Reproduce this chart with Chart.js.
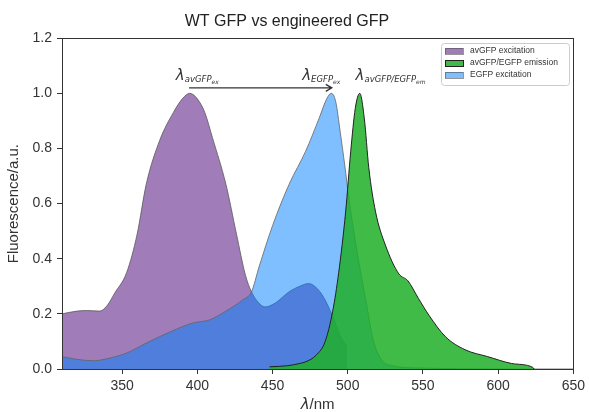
<!DOCTYPE html>
<html>
<head>
<meta charset="utf-8">
<script src="https://cdn.jsdelivr.net/npm/chart.js@4"></script>
<style>
  html, body { margin: 0; padding: 0; background: #fff; }
  canvas { display: block; }
</style>
</head>
<body>
<canvas id="gfpChart" width="589" height="412"></canvas>
<script>
// avGFP excitation (wild type)
const avExWl = [310, 320, 327, 335, 340, 345, 353, 360, 366, 375, 384, 390, 395, 400, 405, 410, 419, 426, 432, 436, 440, 445, 452, 461, 468, 474, 480, 485, 490, 495, 499.5];
const avExVal = [0.20, 0.21, 0.212, 0.21, 0.23, 0.275, 0.35, 0.49, 0.67, 0.83, 0.93, 0.98, 1.0, 0.98, 0.93, 0.84, 0.67, 0.49, 0.34, 0.28, 0.245, 0.225, 0.24, 0.28, 0.30, 0.31, 0.29, 0.25, 0.19, 0.12, 0.08];

// avGFP/EGFP emission
const emWl = [448, 460, 468, 472, 479, 485, 490, 494, 498.6, 502, 505, 508, 511, 514, 518.5, 525, 534, 540, 547, 554, 565, 578, 593, 609, 623, 624];
const emVal = [0.008, 0.012, 0.02, 0.026, 0.05, 0.10, 0.21, 0.35, 0.57, 0.79, 0.945, 1.0, 0.91, 0.73, 0.57, 0.45, 0.345, 0.32, 0.256, 0.195, 0.117, 0.07, 0.045, 0.02, 0.006, 0.0];

// EGFP excitation
const egExWl = [310, 320, 331, 342, 353, 366, 382, 397, 408, 419, 430, 436, 441, 450, 461, 472, 481, 486, 489, 492, 495, 498, 501, 504, 507, 512, 517, 523, 530, 545, 625, 650];
const egExVal = [0.045, 0.035, 0.03, 0.04, 0.058, 0.094, 0.135, 0.167, 0.178, 0.21, 0.25, 0.28, 0.37, 0.52, 0.67, 0.79, 0.91, 0.98, 1.0, 0.97, 0.86, 0.74, 0.61, 0.5, 0.40, 0.25, 0.105, 0.03, 0.012, 0.004, 0.0, 0.0];

const xTicks = [350, 400, 450, 500, 550, 600, 650];
const yTicks = [0, 0.2, 0.4, 0.6, 0.8, 1.0, 1.2];

const seriesNames = ["avGFP excitation", "avGFP/EGFP emission", "EGFP excitation"];

// peak annotations: [main, subscript, sub-subscript, x start, baseline y]
const peakLabels = [
  ["λ", "avGFP", "ex", 385.7, 1.047],
  ["λ", "EGFP", "ex", 469.7, 1.047],
  ["λ", "avGFP/EGFP", "em", 505.2, 1.047],
];
const arrowFrom = [394.5, 1.02];
const arrowTo = [489.4, 1.02];

const toPoints = (xs, ys) => xs.map((x, i) => ({ x: x, y: ys[i] }));

const fills = {
  purple: "rgba(128, 80, 160, 0.75)",
  green: "rgba(30, 175, 40, 0.85)",
  blue: "rgba(0, 128, 255, 0.5)",
};

Chart.defaults.font.family = "'Liberation Sans', Arial, sans-serif";
Chart.defaults.color = "#333";

// draws the lambda labels and the arrow between the two excitation peaks
const annotations = {
  id: "annotations",
  afterDatasetsDraw(chart) {
    const { ctx, scales } = chart;
    const x = scales.x, y = scales.y;
    ctx.save();
    ctx.fillStyle = "#333";
    ctx.textBaseline = "alphabetic";
    ctx.textAlign = "left";
    peakLabels.forEach(([main, sub, subsub, xv, yv]) => {
      let px = x.getPixelForValue(xv);
      const py = y.getPixelForValue(yv);
      ctx.font = "italic 15px 'DejaVu Sans'";
      ctx.fillText(main, px, py);
      px += ctx.measureText(main).width;
      ctx.font = "italic 8.5px 'DejaVu Sans'";
      ctx.fillText(sub, px, py + 2);
      px += ctx.measureText(sub).width;
      ctx.font = "italic 6px 'DejaVu Sans'";
      ctx.fillText(subsub, px, py + 4);
    });

    const x1 = x.getPixelForValue(arrowFrom[0]);
    const x2 = x.getPixelForValue(arrowTo[0]);
    const ya = y.getPixelForValue(arrowFrom[1]);
    ctx.strokeStyle = "#333";
    ctx.lineWidth = 1.3;
    ctx.beginPath();
    ctx.moveTo(x1, ya);
    ctx.lineTo(x2, ya);
    ctx.moveTo(x2 - 6, ya - 3.5);
    ctx.lineTo(x2, ya);
    ctx.lineTo(x2 - 6, ya + 3.5);
    ctx.stroke();
    ctx.restore();
  },
  afterDraw(chart) {
    const { ctx, chartArea: a } = chart;
    ctx.save();
    // frame round the plot
    ctx.strokeStyle = "#333";
    ctx.lineWidth = 1;
    ctx.strokeRect(Math.round(a.left) + 0.5, Math.round(a.top) + 0.5, Math.round(a.right - a.left), Math.round(a.bottom - a.top));

    // axis titles
    ctx.fillStyle = "#333";
    ctx.textBaseline = "middle";
    ctx.textAlign = "left";
    const lam = "λ";
    ctx.font = "15px 'Liberation Sans', Arial";
    const rest = "/nm";
    const restW = ctx.measureText(rest).width;
    ctx.font = "italic 15px 'DejaVu Sans'";
    const lamW = ctx.measureText(lam).width;
    const cx = (a.left + a.right) / 2;
    const sx = cx - (lamW + restW) / 2;
    ctx.fillText(lam, sx, 405);
    ctx.font = "15px 'Liberation Sans', Arial";
    ctx.fillText(rest, sx + lamW, 405);

    ctx.translate(14, (a.top + a.bottom) / 2);
    ctx.rotate(-Math.PI / 2);
    ctx.textAlign = "center";
    ctx.fillText("Fluorescence/a.u.", 0, 0);
    ctx.restore();

    // legend box
    ctx.save();
    const lx = 441, ly = 43, lw = 128, lh = 42;
    ctx.fillStyle = "rgba(255,255,255,0.85)";
    ctx.strokeStyle = "#ccc";
    ctx.lineWidth = 1;
    ctx.beginPath();
    ctx.roundRect(lx + 0.5, ly + 0.5, lw, lh, 3);
    ctx.fill();
    ctx.stroke();
    const swatches = [fills.purple, fills.green, fills.blue];
    ctx.font = "8.5px 'Liberation Sans', Arial";
    ctx.textBaseline = "middle";
    ctx.textAlign = "left";
    seriesNames.forEach((name, i) => {
      const ry = 51 + i * 12;
      ctx.fillStyle = swatches[i];
      ctx.fillRect(445, ry - 3, 18, 6);
      ctx.strokeStyle = i === 1 ? "#222" : "rgba(80,80,80,0.6)";
      ctx.strokeRect(445.5, ry - 2.5, 18, 6);
      ctx.fillStyle = "#333";
      ctx.fillText(name, 470, ry);
    });
    ctx.restore();
  },
};

new Chart(document.getElementById("gfpChart").getContext("2d"), {
  type: "line",
  data: {
    datasets: [
      {
        label: seriesNames[0],
        data: toPoints(avExWl, avExVal),
        backgroundColor: fills.purple,
        borderColor: "rgba(90,90,90,0.8)",
        borderWidth: 1,
        fill: "origin",
        order: 3,
      },
      {
        label: seriesNames[1],
        data: toPoints(emWl, emVal),
        backgroundColor: fills.green,
        borderColor: "#222",
        borderWidth: 1,
        fill: "origin",
        order: 1,
      },
      {
        label: seriesNames[2],
        data: toPoints(egExWl, egExVal),
        backgroundColor: fills.blue,
        borderColor: "rgba(100,100,100,0.8)",
        borderWidth: 1,
        fill: "origin",
        order: 2,
      },
    ],
  },
  options: {
    responsive: false,
    animation: false,
    devicePixelRatio: 1,
    layout: { padding: { left: 0, right: 15, top: 0, bottom: 0 } },
    elements: {
      point: { radius: 0 },
      line: { cubicInterpolationMode: "monotone" },
    },
    plugins: {
      legend: { display: false },
      tooltip: { enabled: false },
      title: {
        display: true,
        text: "WT GFP vs engineered GFP",
        color: "#222",
        font: { size: 16, weight: "normal" },
        padding: { top: 12, bottom: 7 },
      },
    },
    scales: {
      x: {
        type: "linear",
        min: 310,
        max: 650,
        afterBuildTicks: (axis) => {
          axis.ticks = xTicks.map((v) => ({ value: v }));
        },
        afterFit: (axis) => {
          axis.height = 43;
        },
        ticks: { font: { size: 14 }, color: "#333", padding: 4, maxRotation: 0 },
        grid: { drawOnChartArea: false, tickLength: 5, tickColor: "#333" },
        border: { color: "#333" },
      },
      y: {
        min: 0,
        max: 1.2,
        afterBuildTicks: (axis) => {
          axis.ticks = yTicks.map((v) => ({ value: v }));
        },
        afterFit: (axis) => {
          axis.width = 62;
        },
        ticks: { font: { size: 14 }, color: "#333", padding: 5, callback: (v) => v.toFixed(1) },
        grid: { drawOnChartArea: false, tickLength: 5, tickColor: "#333" },
        border: { color: "#333" },
      },
    },
  },
  plugins: [annotations],
});
</script>
</body>
</html>
